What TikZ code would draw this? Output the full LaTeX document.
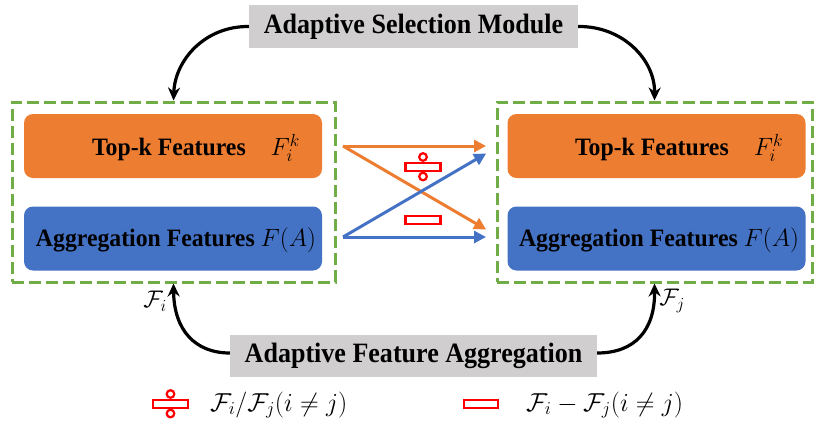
\RequirePackage{fix-cm}
\documentclass[tikz,border=0pt]{standalone}
\usepackage{fontspec}
\setmainfont{Liberation Serif}
\newfontfamily\modfont[FakeStretch=0.93]{Liberation Serif}
\newfontfamily\featfont[FakeStretch=0.95]{Liberation Serif}
\usetikzlibrary{arrows.meta}
\definecolor{orangeF}{HTML}{ED7D31}
\definecolor{blueF}{HTML}{4472C4}
\definecolor{greenD}{HTML}{70AD47}
\definecolor{grayM}{HTML}{D0CECE}
\definecolor{redS}{HTML}{FF0000}
\tikzset{
  module/.style={fill=grayM, inner sep=0pt, font=\fontsize{28}{30}\selectfont\modfont\bfseries},
  group/.style={draw=greenD, line width=3pt, dash pattern=on 12pt off 5pt, inner sep=0pt},
  featbox/.style={rounded corners=9pt, inner sep=0pt, minimum width=298pt, minimum height=64pt},
  feattext/.style={font=\fontsize{25}{27}\selectfont\featfont, inner sep=0pt},
  flowarrow/.style={line width=3pt, -{Triangle[length=12pt,width=12pt]}, shorten >=1pt},
  ctrlarrow/.style={line width=3.2pt, -{Stealth[length=13pt,width=12pt]}},
  opsym/.style={draw=redS, line width=2.2pt, fill=white},
  mathlbl/.style={font=\fontsize{24}{26}\selectfont, inner sep=0pt},
  legtext/.style={font=\fontsize{26}{28}\selectfont, inner sep=0pt}
}
\begin{document}
\begin{tikzpicture}[x=1pt,y=-1pt]
\useasboundingbox (0,0) rectangle (824,426);

% control modules
\node[module, minimum width=329pt, minimum height=43pt] (asm) at (413.5,26.5) {Adaptive Selection Module};
\node[module, minimum width=367pt, minimum height=42pt] (afa) at (413.5,356) {Adaptive Feature Aggregation};

% feature groups
\node[group, minimum width=323pt, minimum height=180pt] (L) at (173.5,192) {};
\node[group, minimum width=315pt, minimum height=180pt] (R) at (654.5,192) {};

\node[featbox, fill=orangeF] (Lt) at (173,146) {};
\node[featbox, fill=blueF] (Lb) at (173,238.5) {};
\node[featbox, fill=orangeF] (Rt) at (656.5,146) {};
\node[featbox, fill=blueF] (Rb) at (656.5,238.5) {};

\node[feattext] (Ltt) at (196,148) {\textbf{Top-k Features}\quad $F_i^k$};
\node[feattext] (Lbt) at (176,240) {\textbf{Aggregation Features} $F(A)$};
\node[feattext] (Rtt) at (679,148) {\textbf{Top-k Features}\quad $F_i^k$};
\node[feattext] (Rbt) at (659,240) {\textbf{Aggregation Features} $F(A)$};

% crossing exchange arrows
\coordinate (o1) at (343,146);
\coordinate (b1) at (343,237);
\coordinate (o2) at (487,146);
\coordinate (o3) at (487,230);
\coordinate (b2) at (487,237);
\coordinate (b3) at (487,153);
\draw[flowarrow, orangeF] (o1) -- (o2);
\draw[flowarrow, orangeF] (o1) -- (o3);
\draw[flowarrow, blueF] (b1) -- (b3);
\draw[flowarrow, blueF] (b1) -- (b2);

% operation symbols
\node[opsym, minimum width=35pt, minimum height=8pt, inner sep=0pt] (div) at (423,167) {};
\draw[opsym] (423,157) circle (3.8pt);
\draw[opsym] (423,176.5) circle (3.8pt);
\node[opsym, minimum width=35pt, minimum height=8pt, inner sep=0pt] (sub) at (423,220) {};

% control arrows
\draw[ctrlarrow] (asm.west) .. controls (205,26) and (175,60) .. (L.north);
\draw[ctrlarrow] (asm.east) .. controls (623,26) and (655,60) .. (R.north);
\draw[ctrlarrow] (afa.west |- 0,353) .. controls (195,353) and (174,330) .. (L.south);
\draw[ctrlarrow] (afa.east |- 0,353) .. controls (635,353) and (655,330) .. (R.south);

\node[mathlbl] (Fi) at (155,301) {$\mathcal{F}_i$};
\node[mathlbl] (Fj) at (672,301) {$\mathcal{F}_j$};

% legend
\node[opsym, minimum width=35pt, minimum height=8pt, inner sep=0pt] (ldiv) at (170.5,404) {};
\draw[opsym] (170.5,394) circle (3.8pt);
\draw[opsym] (170.5,413.5) circle (3.8pt);
\node[legtext, anchor=west] (ldivt) at (210,405) {$\mathcal{F}_i\big/\mathcal{F}_j(i\neq j)$};
\node[opsym, minimum width=34pt, minimum height=8pt, inner sep=0pt] (lsub) at (481,404) {};
\node[legtext, anchor=west] (lsubt) at (526,405) {$\mathcal{F}_i-\mathcal{F}_j(i\neq j)$};
\end{tikzpicture}
\end{document}
